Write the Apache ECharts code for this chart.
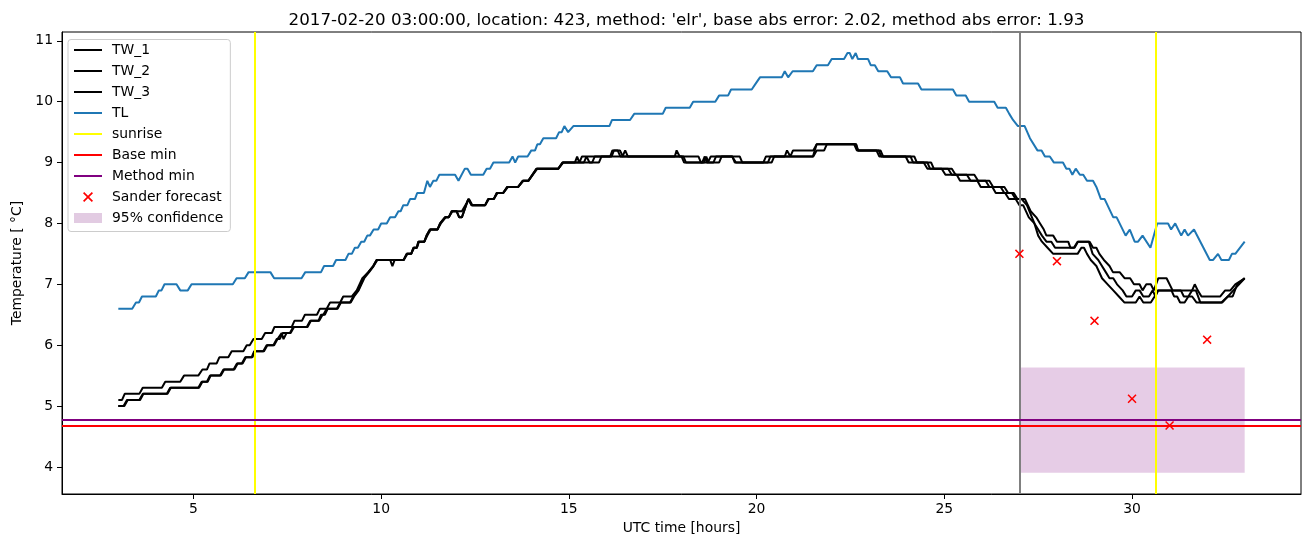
<!DOCTYPE html>
<html>
<head>
<meta charset="utf-8">
<script src="https://cdn.jsdelivr.net/npm/echarts@6/dist/echarts.min.js"></script>
<style>
html,body{margin:0;padding:0;background:#fff;}
#chart{width:1311px;height:547px;}
</style>
</head>
<body>
<div id="chart"></div>
<script>
// ---------------- data ----------------
const titleText = "2017-02-20 03:00:00, location: 423, method: 'elr', base abs error: 2.02, method abs error: 1.93";
const xTicks = [5, 10, 15, 20, 25, 30];
const yTicks = [4, 5, 6, 7, 8, 9, 10, 11];
const xRange = [1.5, 34.5];
const yRange = [3.555, 11.145];

const TL = [[3.0,6.6],[3.37,6.6],[3.47,6.7],[3.55,6.7],[3.63,6.8],[4.0,6.8],[4.08,6.9],[4.15,6.9],[4.23,7.0],[4.55,7.0],[4.65,6.9],[4.85,6.9],[4.95,7.0],[6.05,7.0],[6.15,7.1],[6.37,7.1],[6.47,7.2],[7.05,7.2],[7.15,7.1],[7.88,7.1],[7.98,7.2],[8.4,7.2],[8.48,7.3],[8.72,7.3],[8.8,7.4],[9.05,7.4],[9.13,7.5],[9.22,7.5],[9.3,7.6],[9.38,7.6],[9.47,7.7],[9.55,7.7],[9.63,7.8],[9.7,7.8],[9.8,7.9],[9.92,7.9],[10.0,8.0],[10.15,8.0],[10.24,8.1],[10.37,8.1],[10.46,8.2],[10.52,8.2],[10.59,8.3],[10.7,8.3],[10.77,8.4],[10.9,8.4],[10.96,8.5],[11.14,8.5],[11.23,8.7],[11.3,8.6],[11.39,8.7],[11.47,8.7],[11.55,8.8],[11.97,8.8],[12.06,8.7],[12.23,8.9],[12.3,8.9],[12.39,8.8],[12.72,8.8],[12.81,8.9],[12.9,8.9],[12.99,9.0],[13.41,9.0],[13.5,9.1],[13.57,9.0],[13.65,9.1],[13.9,9.1],[14.0,9.2],[14.1,9.2],[14.16,9.3],[14.23,9.3],[14.32,9.4],[14.66,9.4],[14.74,9.5],[14.81,9.5],[14.88,9.6],[14.98,9.5],[15.12,9.6],[16.08,9.6],[16.15,9.7],[16.63,9.7],[16.74,9.8],[17.5,9.8],[17.58,9.9],[18.22,9.9],[18.31,10.0],[18.9,10.0],[19.0,10.1],[19.24,10.1],[19.32,10.2],[19.87,10.2],[19.98,10.3],[20.09,10.4],[20.67,10.4],[20.75,10.5],[20.84,10.4],[20.96,10.5],[21.5,10.5],[21.6,10.6],[21.9,10.6],[22.0,10.7],[22.33,10.7],[22.42,10.8],[22.48,10.8],[22.55,10.7],[22.64,10.8],[22.7,10.7],[22.97,10.7],[23.04,10.6],[23.15,10.6],[23.24,10.5],[23.48,10.5],[23.58,10.4],[23.82,10.4],[23.9,10.3],[24.3,10.3],[24.39,10.2],[25.23,10.2],[25.32,10.1],[25.57,10.1],[25.66,10.0],[26.33,10.0],[26.42,9.9],[26.64,9.9],[26.73,9.8],[26.83,9.7],[26.96,9.6],[27.14,9.6],[27.28,9.4],[27.48,9.2],[27.59,9.2],[27.68,9.1],[27.81,9.1],[27.92,9.0],[28.16,9.0],[28.25,8.9],[28.33,8.9],[28.41,8.8],[28.5,8.9],[28.61,8.8],[28.7,8.8],[28.8,8.7],[28.96,8.7],[29.05,8.6],[29.17,8.4],[29.27,8.4],[29.5,8.1],[29.59,8.1],[29.83,7.8],[29.94,7.9],[30.07,7.7],[30.16,7.7],[30.28,7.8],[30.49,7.6],[30.67,8.0],[30.96,8.0],[31.04,7.9],[31.15,8.0],[31.31,7.8],[31.4,7.9],[31.49,7.8],[31.65,7.9],[32.07,7.4],[32.16,7.4],[32.29,7.5],[32.38,7.4],[32.58,7.4],[32.66,7.5],[32.75,7.5],[33.0,7.7]];

const TW_1 = [[3.0,5.1],[3.1,5.1],[3.17,5.2],[3.56,5.2],[3.65,5.3],[4.16,5.3],[4.25,5.4],[4.65,5.4],[4.75,5.5],[5.13,5.5],[5.24,5.6],[5.36,5.6],[5.43,5.7],[5.62,5.7],[5.69,5.8],[5.93,5.8],[6.02,5.9],[6.33,5.9],[6.42,6.0],[6.5,6.0],[6.6,6.1],[6.82,6.1],[6.91,6.2],[7.09,6.2],[7.16,6.3],[7.62,6.3],[7.69,6.4],[7.89,6.4],[7.97,6.5],[8.29,6.5],[8.37,6.6],[8.55,6.6],[8.64,6.7],[8.91,6.7],[8.99,6.8],[9.22,6.8],[9.35,6.9],[9.5,7.1],[9.66,7.2],[9.79,7.3],[9.88,7.4],[10.24,7.4],[10.3,7.3],[10.36,7.4],[10.6,7.4],[10.68,7.5],[10.8,7.5],[10.86,7.6],[10.95,7.6],[10.99,7.7],[11.15,7.7],[11.21,7.8],[11.25,7.8],[11.3,7.9],[11.5,7.9],[11.57,8.0],[11.62,8.0],[11.7,8.1],[11.8,8.1],[11.88,8.2],[12.01,8.2],[12.08,8.1],[12.15,8.1],[12.32,8.4],[12.41,8.3],[12.77,8.3],[12.85,8.4],[13.0,8.4],[13.08,8.5],[13.25,8.5],[13.36,8.6],[13.65,8.6],[13.77,8.7],[13.92,8.7],[14.14,8.9],[14.72,8.9],[14.83,9.0],[15.16,9.0],[15.22,9.1],[15.28,9.0],[15.35,9.1],[15.56,9.1],[16.1,9.1],[16.16,9.2],[16.36,9.2],[16.44,9.1],[17.82,9.1],[17.87,9.2],[17.95,9.1],[18.45,9.1],[18.52,9.0],[18.6,9.0],[18.66,9.1],[18.72,9.0],[18.85,9.0],[18.92,9.1],[19.55,9.1],[19.62,9.0],[20.18,9.0],[20.25,9.1],[20.75,9.1],[20.81,9.2],[20.9,9.1],[20.97,9.2],[21.51,9.2],[21.6,9.3],[22.65,9.3],[22.7,9.2],[23.3,9.2],[23.37,9.1],[24.2,9.1],[24.27,9.0],[24.65,9.0],[24.72,8.9],[25.2,8.9],[25.3,8.8],[25.8,8.8],[25.9,8.7],[26.2,8.7],[26.3,8.6],[26.6,8.6],[26.7,8.5],[26.85,8.5],[26.95,8.4],[27.15,8.4],[27.3,8.2],[27.45,8.1],[27.55,8.0],[27.65,7.9],[27.72,7.8],[27.9,7.8],[28.0,7.7],[28.3,7.7],[28.36,7.6],[28.47,7.6],[28.56,7.7],[28.87,7.7],[28.96,7.6],[29.05,7.6],[29.13,7.5],[29.25,7.4],[29.4,7.3],[29.49,7.2],[29.67,7.2],[29.8,7.1],[29.95,7.1],[30.05,7.0],[30.2,7.0],[30.28,6.9],[30.38,7.0],[30.5,7.0],[30.58,6.9],[30.7,7.1],[30.92,7.1],[31.08,6.9],[31.6,6.9],[31.67,7.0],[31.75,6.9],[31.85,6.8],[32.35,6.8],[32.48,6.9],[32.62,6.9],[32.75,7.0],[33.0,7.1]];

const TW_2 = [[3.0,5.0],[3.14,5.0],[3.23,5.1],[3.56,5.1],[3.65,5.2],[4.29,5.2],[4.38,5.3],[5.13,5.3],[5.22,5.4],[5.36,5.4],[5.44,5.5],[5.71,5.5],[5.8,5.6],[6.07,5.6],[6.16,5.7],[6.29,5.7],[6.38,5.8],[6.55,5.8],[6.62,5.9],[6.86,5.9],[6.95,6.0],[7.13,6.0],[7.22,6.1],[7.3,6.1],[7.38,6.2],[7.57,6.2],[7.66,6.3],[8.02,6.3],[8.11,6.4],[8.33,6.4],[8.4,6.5],[8.46,6.5],[8.55,6.6],[8.82,6.6],[8.91,6.7],[9.17,6.7],[9.26,6.8],[9.39,6.9],[9.53,7.1],[9.66,7.2],[9.79,7.3],[9.88,7.4],[10.6,7.4],[10.68,7.5],[10.8,7.5],[10.86,7.6],[10.95,7.6],[10.99,7.7],[11.15,7.7],[11.21,7.8],[11.25,7.8],[11.3,7.9],[11.5,7.9],[11.57,8.0],[11.62,8.0],[11.7,8.1],[11.8,8.1],[11.88,8.2],[12.01,8.2],[12.08,8.1],[12.15,8.1],[12.32,8.4],[12.41,8.3],[12.77,8.3],[12.85,8.4],[13.0,8.4],[13.08,8.5],[13.25,8.5],[13.36,8.6],[13.65,8.6],[13.77,8.7],[13.92,8.7],[14.14,8.9],[14.72,8.9],[14.83,9.0],[15.62,9.0],[15.69,9.1],[16.43,9.1],[16.5,9.2],[16.57,9.1],[18.0,9.1],[18.07,9.0],[18.55,9.0],[18.62,9.1],[18.68,9.0],[19.0,9.0],[19.07,9.1],[19.35,9.1],[19.42,9.0],[20.3,9.0],[20.37,9.1],[21.51,9.1],[21.6,9.2],[21.8,9.2],[21.87,9.3],[22.65,9.3],[22.7,9.2],[23.25,9.2],[23.32,9.1],[24.1,9.1],[24.17,9.0],[24.55,9.0],[24.62,8.9],[25.1,8.9],[25.2,8.8],[25.6,8.8],[25.7,8.7],[26.1,8.7],[26.2,8.6],[26.5,8.6],[26.6,8.5],[26.8,8.5],[26.9,8.4],[27.06,8.4],[27.2,8.3],[27.4,8.0],[27.5,7.9],[27.6,7.8],[27.72,7.7],[27.85,7.7],[27.95,7.6],[28.45,7.6],[28.55,7.7],[28.85,7.7],[28.95,7.5],[29.1,7.4],[29.3,7.2],[29.4,7.1],[29.5,7.1],[29.6,7.0],[29.75,6.9],[29.85,6.8],[30.0,6.8],[30.1,6.9],[30.2,6.9],[30.3,6.8],[30.45,6.8],[30.55,6.9],[30.62,6.8],[30.7,6.9],[31.3,6.9],[31.38,6.8],[31.5,6.8],[31.6,6.9],[31.7,6.9],[31.82,6.7],[32.4,6.7],[32.55,6.8],[32.7,6.9],[33.0,7.1]];

const TW_3 = [[3.0,5.0],[3.16,5.0],[3.25,5.1],[3.58,5.1],[3.67,5.2],[4.31,5.2],[4.4,5.3],[5.15,5.3],[5.24,5.4],[5.38,5.4],[5.46,5.5],[5.73,5.5],[5.82,5.6],[6.09,5.6],[6.18,5.7],[6.31,5.7],[6.4,5.8],[6.57,5.8],[6.64,5.9],[6.88,5.9],[6.97,6.0],[7.15,6.0],[7.24,6.1],[7.35,6.2],[7.4,6.1],[7.48,6.2],[7.59,6.2],[7.68,6.3],[8.04,6.3],[8.13,6.4],[8.35,6.4],[8.44,6.5],[8.5,6.5],[8.58,6.6],[8.84,6.6],[8.93,6.7],[9.19,6.7],[9.28,6.8],[9.4,6.9],[9.55,7.1],[9.68,7.2],[9.8,7.3],[9.9,7.4],[10.6,7.4],[10.7,7.5],[10.8,7.5],[10.88,7.6],[10.95,7.6],[11.01,7.7],[11.15,7.7],[11.23,7.8],[11.25,7.8],[11.32,7.9],[11.5,7.9],[11.59,8.0],[11.62,8.0],[11.72,8.1],[11.8,8.1],[11.9,8.2],[12.15,8.2],[12.34,8.4],[12.43,8.3],[12.77,8.3],[12.87,8.4],[13.0,8.4],[13.1,8.5],[13.25,8.5],[13.38,8.6],[13.65,8.6],[13.79,8.7],[13.92,8.7],[14.16,8.9],[14.72,8.9],[14.85,9.0],[15.4,9.0],[15.47,9.1],[15.55,9.0],[15.8,9.0],[15.87,9.1],[16.14,9.1],[16.2,9.2],[16.3,9.2],[16.37,9.1],[18.05,9.1],[18.12,9.0],[18.7,9.0],[18.78,9.1],[19.35,9.1],[19.45,9.0],[20.4,9.0],[20.47,9.1],[21.5,9.1],[21.6,9.3],[22.6,9.3],[22.67,9.2],[23.19,9.2],[23.27,9.1],[23.97,9.1],[24.05,9.0],[24.45,9.0],[24.55,8.9],[24.93,8.9],[25.03,8.8],[25.33,8.8],[25.42,8.7],[25.88,8.7],[25.97,8.6],[26.28,8.6],[26.37,8.5],[26.62,8.5],[26.72,8.4],[26.9,8.4],[27.0,8.3],[27.1,8.3],[27.25,8.1],[27.4,8.0],[27.5,7.8],[27.6,7.7],[27.75,7.6],[27.9,7.5],[28.55,7.5],[28.65,7.6],[28.72,7.6],[28.8,7.5],[28.9,7.4],[29.05,7.3],[29.2,7.1],[29.35,7.0],[29.5,6.9],[29.65,6.8],[29.8,6.7],[30.1,6.7],[30.2,6.8],[30.3,6.7],[30.5,6.7],[30.6,6.8],[30.68,6.9],[31.05,6.9],[31.12,6.8],[31.2,6.8],[31.28,6.7],[31.4,6.7],[31.5,6.8],[31.6,6.8],[31.72,6.7],[32.38,6.7],[32.55,6.8],[32.68,6.8],[32.8,7.0],[33.0,7.1]];

const sunriseTimes = [6.64, 30.63];
const baseMin = 4.68;
const methodMin = 4.78;
const forecastTime = 27;
const sanderTimes = [27, 28, 29, 30, 31, 32];
const sanderValues = [7.50, 7.38, 6.40, 5.12, 4.68, 6.09];
const confidenceTimes = [27, 33];
const confidenceBounds = [3.905, 5.635];

// ---------------- chart ----------------
const FONT = 'DejaVu Sans';
const crossPath = 'path://M1.2,0L5,3.8L8.8,0L10,1.2L6.2,5L10,8.8L8.8,10L5,6.2L1.2,10L0,8.8L3.8,5L0,1.2Z';
const lineIcon = 'path://M0,0H28V2H0Z';
const sander = sanderTimes.map((t, i) => [t, sanderValues[i]]);
const noLabel = {show: false};
function ml(data, color) {
  return {symbol: ['none','none'], silent: true, animation: false, label: noLabel,
    lineStyle: {color: color, width: 2, type: 'solid'}, emphasis: {disabled: true}, data: data};
}
function legendLine(name, color) {
  return {name: name, icon: lineIcon, itemStyle: {color: color, borderWidth: 0}};
}

const chart = echarts.init(document.getElementById('chart'), null, {renderer: 'canvas'});
chart.setOption({
  animation: false,
  backgroundColor: '#ffffff',
  textStyle: {fontFamily: FONT},
  title: {
    text: titleText, left: 681.5, top: 7, textAlign: 'center',
    textStyle: {fontFamily: FONT, fontSize: 16.7, fontWeight: 'normal', color: '#000'}
  },
  grid: {left: 62, right: 10, top: 32, bottom: 53, show: true, borderColor: '#000', borderWidth: 1, backgroundColor: 'transparent'},
  legend: {
    orient: 'vertical', left: 68, top: 39.5,
    padding: [3, 7, 6, 6], itemGap: 6, itemWidth: 28, itemHeight: 10,
    backgroundColor: 'rgba(255,255,255,0.8)', borderColor: '#cccccc', borderWidth: 1, borderRadius: 3,
    textStyle: {fontFamily: FONT, fontSize: 13.9, color: '#000', lineHeight: 15, padding: [0,0,0,5]},
    selectedMode: false,
    data: [legendLine('TW_1','#000'), legendLine('TW_2','#000'), legendLine('TW_3','#000'),
      legendLine('TL','#1f77b4'), legendLine('sunrise','#ffff00'), legendLine('Base min','#ff0000'),
      legendLine('Method min','#800080'),
      {name: 'Sander forecast'},
      {name: '95% confidence', icon: 'rect', itemStyle: {color: '#e2cbe2'}}]
  },
  xAxis: {
    type: 'value', min: xRange[0], max: xRange[1],
    name: 'UTC time [hours]', nameLocation: 'middle', nameGap: 27,
    nameTextStyle: {fontFamily: FONT, fontSize: 13.9, color: '#000'},
    axisLine: {show: true, onZero: false, lineStyle: {color: '#000', width: 1}},
    axisTick: {show: true, length: 5, customValues: xTicks, lineStyle: {color: '#000', width: 1}},
    axisLabel: {customValues: xTicks, margin: 8, fontFamily: FONT, fontSize: 13.9, color: '#000'},
    splitLine: {show: false}
  },
  yAxis: {
    type: 'value', min: yRange[0], max: yRange[1],
    name: 'Temperature [ °C]', nameLocation: 'middle', nameGap: 37, nameRotate: 90,
    nameTextStyle: {fontFamily: FONT, fontSize: 13.9, color: '#000'},
    axisLine: {show: true, onZero: false, lineStyle: {color: '#000', width: 1}},
    axisTick: {show: true, length: 5, customValues: yTicks, lineStyle: {color: '#000', width: 1}},
    axisLabel: {customValues: yTicks, margin: 9, fontFamily: FONT, fontSize: 13.9, color: '#000'},
    splitLine: {show: false}
  },
  series: [
    {name: '95% confidence', type: 'line', data: [], z: 1, itemStyle: {color: '#e2cbe2'},
     markArea: {silent: true, animation: false, itemStyle: {color: 'rgba(128,0,128,0.2)'}, label: noLabel,
       data: [[{coord: [confidenceTimes[0], confidenceBounds[0]]}, {coord: [confidenceTimes[1], confidenceBounds[1]]}]]}},
    {name: 'TW_1', type: 'line', data: TW_1, symbol: 'none', z: 3, lineStyle: {color: '#000', width: 2}, itemStyle: {color: '#000'}},
    {name: 'TW_2', type: 'line', data: TW_2, symbol: 'none', z: 3, lineStyle: {color: '#000', width: 2}, itemStyle: {color: '#000'}},
    {name: 'TW_3', type: 'line', data: TW_3, symbol: 'none', z: 3, lineStyle: {color: '#000', width: 2}, itemStyle: {color: '#000'}},
    {name: 'TL', type: 'line', data: TL, symbol: 'none', z: 3, lineStyle: {color: '#1f77b4', width: 2}, itemStyle: {color: '#1f77b4'}},
    {name: 'forecast time', type: 'line', data: [], z: 4, itemStyle: {color: '#808080'},
     markLine: ml([{xAxis: forecastTime}], '#808080')},
    {name: 'sunrise', type: 'line', data: [], z: 4, symbol: 'none', lineStyle: {color: '#ffff00', width: 2}, itemStyle: {color: '#ffff00'},
     markLine: ml(sunriseTimes.map(t => ({xAxis: t})), '#ffff00')},
    {name: 'Base min', type: 'line', data: [], z: 4, symbol: 'none', lineStyle: {color: '#ff0000', width: 2}, itemStyle: {color: '#ff0000'},
     markLine: ml([{yAxis: baseMin}], '#ff0000')},
    {name: 'Method min', type: 'line', data: [], z: 4, symbol: 'none', lineStyle: {color: '#800080', width: 2}, itemStyle: {color: '#800080'},
     markLine: ml([{yAxis: methodMin}], '#800080')},
    {name: 'Sander forecast', type: 'scatter', data: sander, z: 5, symbol: crossPath, symbolSize: 9,
     itemStyle: {color: '#ff0000', opacity: 1}}
  ]
});
</script>
</body>
</html>
